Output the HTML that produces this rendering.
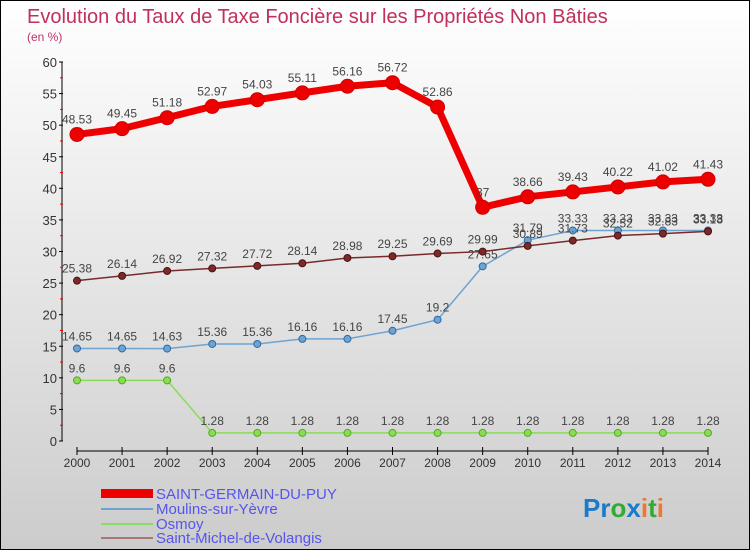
<!DOCTYPE html>
<html><head><meta charset="utf-8"><style>
body{margin:0}
#c{width:750px;height:550px;position:relative;box-sizing:border-box;border:1px solid #000;background:linear-gradient(#fff,#ccc);font-family:"Liberation Sans",sans-serif;overflow:hidden}
svg{position:absolute;left:0;top:0}
</style></head><body>
<div id="c">
<svg id="s" width="750" height="550">
<text x="26" y="22" font-size="20" fill="#c0305a">Evolution du Taux de Taxe Foncière sur les Propriétés Non Bâties</text>
<text x="26" y="40" font-size="12" fill="#c0306a">(en %)</text>
<g id="ax"></g>
<g id="ser"></g>
<g>
<rect x="100" y="488" width="52" height="9" fill="#e00"/>
<text x="155" y="498" font-size="15" fill="#55e">SAINT-GERMAIN-DU-PUY</text>
<rect x="100" y="507" width="52" height="2" fill="#6fa3d0"/>
<text x="155" y="513" font-size="15" fill="#55e">Moulins-sur-Yèvre</text>
<rect x="100" y="522" width="52" height="2" fill="#8d6"/>
<text x="155" y="528" font-size="15" fill="#55e">Osmoy</text>
<rect x="100" y="536" width="52" height="2" fill="#a77"/>
<text x="155" y="542" font-size="15" fill="#55e">Saint-Michel-de-Volangis</text>
</g>
<text x="582" y="516" font-size="26" font-weight="bold"><tspan fill="#1a7acc">Pr</tspan><tspan fill="#3a3">o</tspan><tspan fill="#1a7acc">x</tspan><tspan fill="#e73">i</tspan><tspan fill="#3a3">t</tspan><tspan fill="#e73">i</tspan></text>
</svg></div>
<script>
const years=[2000,2001,2002,2003,2004,2005,2006,2007,2008,2009,2010,2011,2012,2013,2014];
const yTicks=[0,5,10,15,20,25,30,35,40,45,50,55,60];
const sgp=[48.53,49.45,51.18,52.97,54.03,55.11,56.16,56.72,52.86,37,38.66,39.43,40.22,41.02,41.43];
const moulins=[14.65,14.65,14.63,15.36,15.36,16.16,16.16,17.45,19.2,27.65,31.79,33.33,33.33,33.33,33.33];
const osmoy=[9.6,9.6,9.6,1.28,1.28,1.28,1.28,1.28,1.28,1.28,1.28,1.28,1.28,1.28,1.28];
const smv=[25.38,26.14,26.92,27.32,27.72,28.14,28.98,29.25,29.69,29.99,30.89,31.73,32.52,32.83,33.18];
const NS="http://www.w3.org/2000/svg";
const X=i=>76+i*(707-76)/(years.length-1);
const Y=v=>440-v*(440-61)/60;
function mk(t,a,p){const e=document.createElementNS(NS,t);for(const k in a)e.setAttribute(k,a[k]);p.appendChild(e);return e;}
const ax=document.getElementById('ax'),ser=document.getElementById('ser');
let l=mk('line',{x1:61,y1:Y(60),x2:61,y2:Y(0),stroke:'#000'},ax);


yTicks.forEach(v=>{mk('line',{x1:58,x2:62,y1:Y(v),y2:Y(v),stroke:'#000'},ax);
 if(v<60)mk('line',{x1:59,x2:62,y1:Y(v+2.5),y2:Y(v+2.5),stroke:'#e00'},ax);
 const t=mk('text',{x:56,y:Y(v)+5,'text-anchor':'end','font-size':13,fill:'#333'},ax);t.textContent=v;
 
 });
l=mk('line',{x1:76,y1:450,x2:707,y2:450,stroke:'#000'},ax);


years.forEach((y,i)=>{mk('line',{x1:X(i),x2:X(i),y1:446,y2:454,stroke:'#000'},ax);
 const t=mk('text',{x:X(i),y:466,'text-anchor':'middle','font-size':12,fill:'#333'},ax);t.textContent=y;
 
 });
function series(d,col,w,r,name,stroke){
 const g=mk('g',{},ser);
 
 
 mk('polyline',{points:d.map((v,i)=>X(i)+','+Y(v)).join(' '),fill:'none',stroke:col,'stroke-width':w},g);
 d.forEach((v,i)=>{const c=mk('circle',{cx:X(i),cy:Y(v),r:r,fill:col,stroke:stroke,'stroke-width':1},g);
  
  
  const t=mk('text',{x:X(i),y:Y(v)-8-(r>5?3:0),'text-anchor':'middle','font-size':12,fill:'#444'},g);t.textContent=v;
  
  });
}
series(osmoy,'#8d5','1.5',3.5,'osmoy-series','#5a2');
series(moulins,'#6fa3d0','1.5',3.5,'moulins-series','#2a6aa8');
series(smv,'#7a2a2a','1.5',3.5,'saint-michel-series','#501010');
series(sgp,'#e00','7',7,'saint-germain-series','#c00');
</script>
</body></html>
